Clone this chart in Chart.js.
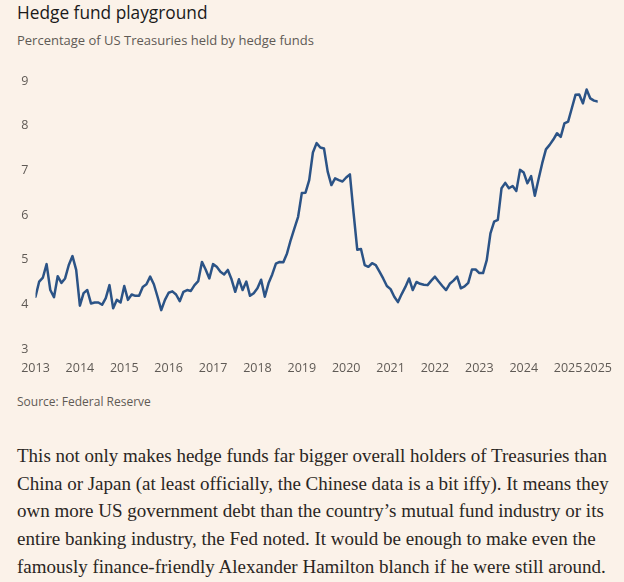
<!DOCTYPE html>
<html>
<head>
<meta charset="utf-8">
<script src="https://cdn.jsdelivr.net/npm/chart.js@4"></script>
<style>
  html, body { margin:0; padding:0; }
  body { width:624px; height:582px; background:#fbf2e9; position:relative; overflow:hidden; font-family:"Open Sans", sans-serif; }
  #title { position:absolute; left:17px; top:1px; font-size:17.3px; color:#1a1a1a; white-space:nowrap; }
  #subtitle { position:absolute; left:17px; top:31px; font-size:13px; color:#5f5a55; white-space:nowrap; }
  #wrap { position:absolute; left:0; top:60px; width:624px; height:320px; }
  #source { position:absolute; left:17px; top:393px; font-size:12px; color:#5f5a55; white-space:nowrap; }
  #body { position:absolute; left:17px; top:442px; font-family:"Liberation Serif", serif; font-size:19px; color:#2a2623; line-height:27.7px; white-space:nowrap; }
</style>
</head>
<body>
<div id="title">Hedge fund playground</div>
<div id="subtitle">Percentage of US Treasuries held by hedge funds</div>
<div id="wrap"><canvas id="c"></canvas></div>
<div id="source">Source: Federal Reserve</div>
<div id="body">
<div>This not only makes hedge funds far bigger overall holders of Treasuries than</div>
<div>China or Japan (at least officially, the Chinese data is a bit iffy). It means they</div>
<div>own more US government debt than the country’s mutual fund industry or its</div>
<div>entire banking industry, the Fed noted. It would be enough to make even the</div>
<div>famously finance-friendly Alexander Hamilton blanch if he were still around.</div>
</div>
<script>
// Monthly series, Jan 2013 .. Sep 2025 (% of US Treasuries held by hedge funds)
const startYear = 2013;
const values = [
  4.17,4.51,4.60,4.90,4.32,4.16,4.63,4.48,4.58,4.88,5.08,4.77,   // 2013
  3.97,4.25,4.32,4.02,4.04,4.04,3.99,4.14,4.43,3.91,4.10,4.04,   // 2014
  4.41,4.10,4.22,4.19,4.19,4.39,4.45,4.62,4.45,4.17,3.87,4.10,   // 2015
  4.26,4.29,4.22,4.07,4.28,4.32,4.30,4.43,4.52,4.95,4.78,4.58,   // 2016
  4.90,4.84,4.73,4.67,4.77,4.56,4.28,4.56,4.32,4.51,4.19,4.25,   // 2017
  4.36,4.55,4.17,4.47,4.67,4.91,4.95,4.94,5.14,5.44,5.70,5.96,   // 2018
  6.49,6.50,6.78,7.40,7.61,7.51,7.49,6.97,6.67,6.82,6.78,6.75,   // 2019
  6.84,6.91,6.04,5.22,5.24,4.88,4.84,4.92,4.88,4.73,4.58,4.41,   // 2020
  4.34,4.17,4.05,4.23,4.39,4.58,4.32,4.50,4.46,4.44,4.43,4.53,   // 2021
  4.62,4.51,4.41,4.32,4.46,4.53,4.62,4.36,4.40,4.48,4.78,4.78,   // 2022
  4.70,4.70,4.99,5.59,5.85,5.89,6.60,6.72,6.60,6.65,6.54,7.01,   // 2023
  6.95,6.71,6.87,6.43,6.80,7.16,7.47,7.57,7.69,7.83,7.75,8.05,   // 2024
  8.09,8.39,8.69,8.70,8.50,8.81,8.61,8.56,8.54                   // 2025
];
const yTicks = [3,4,5,6,7,8,9];
const xTickYears = [2013,2014,2015,2016,2017,2018,2019,2020,2021,2022,2023,2024,2025];

const points = values.map((v,i)=>({x:i, y:v}));
const lastIndex = values.length - 1;
const xTickValues = xTickYears.map(y => (y - startYear) * 12).concat([lastIndex]);

const tickColor = '#5f5a55';
new Chart(document.getElementById('c'), {
  type: 'line',
  data: { datasets: [{
    data: points,
    borderColor: '#2b5386',
    borderWidth: 2.5,
    pointRadius: 0,
    tension: 0,
    borderJoinStyle: 'round',
    borderCapStyle: 'round'
  }]},
  options: {
    responsive: true,
    maintainAspectRatio: false,
    animation: false,
    layout: { padding: { left: 0, right: 19, top: 21, bottom: 0 } },
    plugins: { legend: { display:false }, tooltip: { enabled:false } },
    scales: {
      x: {
        type: 'linear',
        min: 0, max: lastIndex,
        grid: { display:false, drawTicks:false },
        border: { display:false },
        afterBuildTicks: s => { s.ticks = xTickValues.map(v=>({value:v})); },
        afterFit: s => { s.height = 31; },
        ticks: {
          autoSkip: false, maxRotation: 0,
          padding: 12,
          color: tickColor,
          font: { family: '"Open Sans", sans-serif', size: 12.5 },
          callback: v => String(startYear + Math.floor(v/12))
        }
      },
      y: {
        min: 3, max: 9,
        grid: { display:false, drawTicks:false },
        border: { display:false },
        afterBuildTicks: s => { s.ticks = yTicks.map(v=>({value:v})); },
        afterFit: s => { s.width = 35.5; },
        ticks: {
          padding: 7,
          color: tickColor,
          font: { family: '"Open Sans", sans-serif', size: 12.5 },
          callback: v => String(v)
        }
      }
    }
  }
});
</script>
</body>
</html>
